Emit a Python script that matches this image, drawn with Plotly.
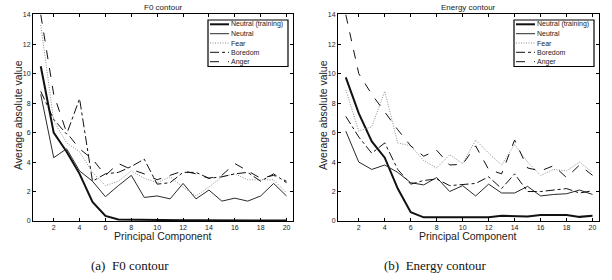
import plotly.graph_objects as go

W, H = 612, 280
components = list(range(1, 21))
series_names = ["Neutral (training)", "Neutral", "Fear", "Boredom", "Anger"]

f0_neutral_training = [10.5, 6.0, 4.7, 3.2, 1.3, 0.35, 0.1, 0.08, 0.06, 0.06, 0.05, 0.05, 0.05, 0.04, 0.04, 0.04, 0.04, 0.04, 0.04, 0.04]
f0_neutral = [8.6, 4.3, 4.9, 3.4, 2.7, 1.65, 2.4, 3.1, 1.6, 1.7, 1.5, 2.55, 1.5, 2.1, 1.35, 1.55, 1.35, 1.7, 2.55, 1.7]
f0_fear = [13.3, 6.8, 5.3, 4.7, 3.3, 2.4, 2.7, 3.4, 2.9, 2.6, 3.0, 2.3, 1.7, 2.3, 3.0, 3.2, 2.8, 2.8, 2.8, 1.9]
f0_boredom = [8.8, 6.9, 5.9, 8.3, 2.7, 3.2, 3.3, 3.7, 4.2, 2.5, 2.6, 3.3, 3.3, 2.9, 3.0, 3.2, 3.3, 2.7, 3.2, 2.6]
f0_anger = [14.0, 8.6, 6.0, 4.9, 4.2, 3.1, 3.9, 3.5, 3.2, 2.8, 3.1, 3.4, 3.2, 2.9, 3.1, 3.9, 3.4, 2.9, 3.1, 2.7]

en_neutral_training = [9.75, 7.3, 5.4, 4.3, 2.2, 0.6, 0.25, 0.25, 0.25, 0.3, 0.28, 0.25, 0.35, 0.3, 0.3, 0.4, 0.38, 0.4, 0.28, 0.35]
en_neutral = [6.1, 4.0, 3.5, 3.8, 3.3, 2.6, 2.45, 2.95, 2.0, 2.4, 1.7, 2.5, 1.9, 1.9, 2.35, 1.7, 1.8, 1.85, 2.1, 1.8]
en_fear = [8.9, 6.1, 6.4, 8.8, 5.3, 5.1, 4.1, 3.6, 4.5, 3.9, 5.5, 4.6, 3.8, 5.2, 4.0, 3.1, 3.5, 3.4, 4.0, 3.3]
en_boredom = [7.1, 5.7, 4.6, 5.3, 3.5, 2.5, 2.75, 2.85, 2.4, 2.45, 2.55, 3.0, 2.2, 3.2, 2.0, 2.0, 2.1, 2.2, 1.9, 2.05]
en_anger = [14.0, 10.0, 8.6, 7.4, 6.2, 5.1, 4.4, 4.8, 3.8, 3.85, 5.1, 3.5, 3.2, 5.5, 3.6, 3.4, 3.75, 2.95, 3.8, 3.1]

x_ticks = [2, 4, 6, 8, 10, 12, 14, 16, 18, 20]
y_ticks = [0, 2, 4, 6, 8, 10, 12, 14]

styles = [
    dict(color="#111111", width=2.0, dash="solid"),
    dict(color="#2a2a2a", width=1.0, dash="solid"),
    dict(color="#8c8c8c", width=1.0, dash="1px,1.5px"),
    dict(color="#111111", width=1.0, dash="dashdot"),
    dict(color="#111111", width=1.0, dash="dash"),
]

fig = go.Figure()
panels = [
    ("x", "y", [f0_neutral_training, f0_neutral, f0_fear, f0_boredom, f0_anger]),
    ("x2", "y2", [en_neutral_training, en_neutral, en_fear, en_boredom, en_anger]),
]
for xa, ya, data in panels:
    for name, vals, st in zip(series_names, data, styles):
        fig.add_trace(go.Scatter(x=components, y=vals, mode="lines", name=name,
                                 line=st, xaxis=xa, yaxis=ya, showlegend=False,
                                 hoverinfo="skip"))

def px(x):
    return x / W

def py(y):
    return 1 - y / H

axfont = dict(family="Liberation Sans, Arial, sans-serif", size=7, color="#222")
common_x = dict(range=[0.4, 20.5], tickvals=x_ticks, ticks="inside", ticklen=3,
                showline=True, linecolor="black", linewidth=1, mirror="ticks",
                showgrid=False, zeroline=False, tickfont=axfont, tickcolor="black")
common_y = dict(range=[0, 14.05], tickvals=y_ticks, ticks="inside", ticklen=3,
                showline=True, linecolor="black", linewidth=1, mirror="ticks",
                showgrid=False, zeroline=False, tickfont=axfont, tickcolor="black")

ydom = [py(221), py(14)]
p1 = (33, 293)
p2 = (338, 599)
fig.update_layout(
    width=W, height=H, margin=dict(l=0, r=0, t=0, b=0, autoexpand=False),
    paper_bgcolor="white", plot_bgcolor="white", showlegend=False,
    hovermode=False, dragmode=False,
    xaxis=dict(domain=[px(p1[0]), px(p1[1])], anchor="y", **common_x),
    yaxis=dict(domain=ydom, anchor="x", **common_y),
    xaxis2=dict(domain=[px(p2[0]), px(p2[1])], anchor="y2", **common_x),
    yaxis2=dict(domain=ydom, anchor="x2", **common_y),
)

shapes = []
annotations = []
lab_font = dict(family="Liberation Sans, Arial, sans-serif", size=10.5, color="#222")

def ann(x, y, text, font, xanchor="center", textangle=0):
    annotations.append(dict(x=px(x), y=py(y), xref="paper", yref="paper", text=text,
                            showarrow=False, xanchor=xanchor, yanchor="middle",
                            textangle=textangle, font=font))

for (l, r), title, cap in [(p1, "F0 contour", "(a)  F0 contour"), (p2, "Energy contour", "(b)  Energy contour")]:
    cx = (l + r) / 2
    ann(cx, 7, title, dict(family="Liberation Sans, Arial, sans-serif", size=8, color="#222"))
    ann(cx, 236, "Principal Component", lab_font)
    ann(l - 15, 115, "Average absolute value", lab_font, textangle=-90)
    ann(cx - 33, 265, cap, dict(family="Liberation Serif, Times New Roman, serif", size=13, color="#111"))
    # legend box
    bx0, bx1 = r - 85, r - 5
    shapes.append(dict(type="rect", xref="paper", yref="paper", x0=px(bx0), x1=px(bx1), y0=py(20), y1=py(66.5),
                       line=dict(color="black", width=1.2), fillcolor="white"))
    rows = [24.3, 33.7, 43.0, 52.3, 61.7]
    for name, st, ry in zip(series_names, styles, rows):
        shapes.append(dict(type="line", xref="paper", yref="paper", x0=px(bx0 + 2), x1=px(bx0 + 21),
                           y0=py(ry), y1=py(ry), line=st))
        ann(bx0 + 20.5, ry, name, dict(family="Liberation Sans, Arial, sans-serif", size=7, color="#222"),
            xanchor="left")

fig.update_layout(shapes=shapes, annotations=annotations)
fig.write_html("out.html", config={"displayModeBar": False, "staticPlot": True},
               post_script="document.body.style.margin='0px';document.body.style.overflow='hidden';")
